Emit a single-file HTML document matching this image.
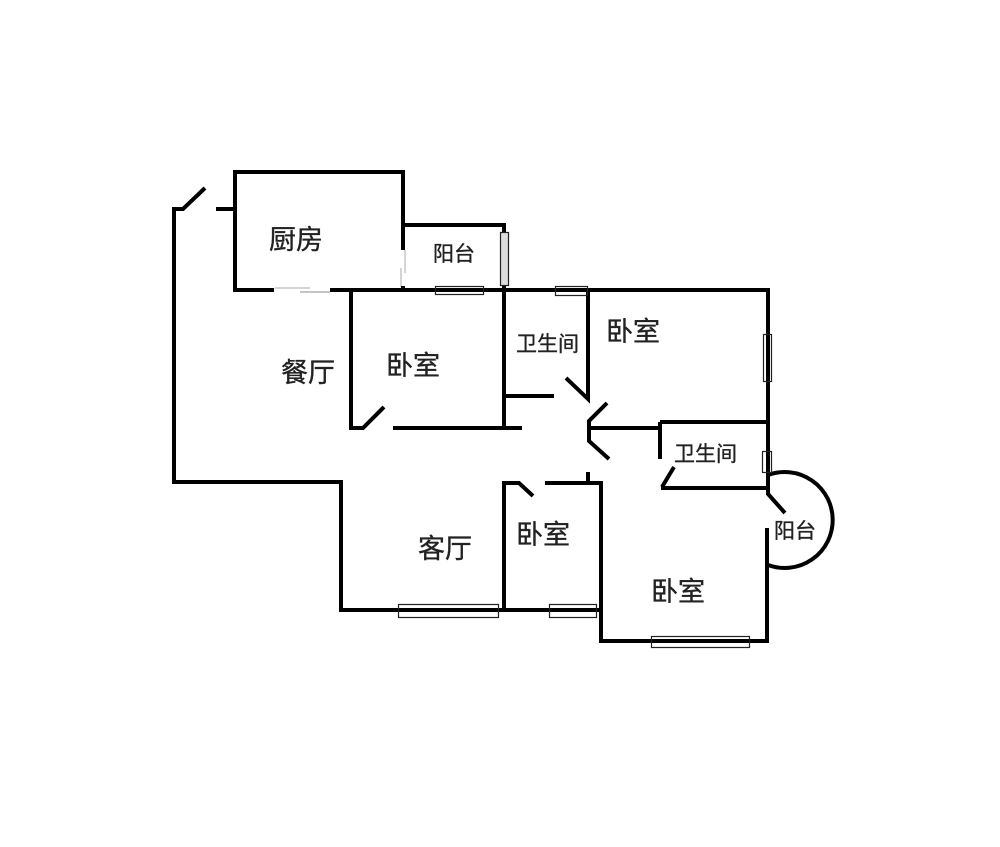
<!DOCTYPE html>
<html><head><meta charset="utf-8"><style>
html,body{margin:0;padding:0;background:#fff}
svg{display:block}
text{font-family:"Liberation Sans","Noto Sans CJK SC",sans-serif;fill:#222;stroke:#222;stroke-width:.35px}
.b{font-size:27px}.s{font-size:21px}
</style></head><body>
<svg width="1000" height="847" viewBox="0 0 1000 847" xmlns="http://www.w3.org/2000/svg">
<rect width="1000" height="847" fill="#fff"/>
<g fill="none" stroke="#000" stroke-width="4" stroke-linejoin="miter">
<path d="M174,484V209H183L205,188"/>
<path d="M216,209H235"/>
<path d="M274,290H235V172H403V250"/>
<path d="M403,225H504V428"/>
<path d="M330,290H768V488H661"/>
<path d="M351,290V428H363L384,407"/>
<path d="M393,428H522"/>
<path d="M504,396H554"/>
<path d="M588,290V399L566,378"/>
<path d="M607,403L589,421V441L609,459"/>
<path d="M588,428H660"/>
<path d="M660,422H768"/>
<path d="M660,422V459"/>
<path d="M674,467L662,487"/>
<path d="M768,488V494L785,513"/>
<path d="M767,528V641H601V483H545"/>
<path d="M588,472V483"/>
<path d="M533,496L519,483H504V610"/>
<path d="M172,482H341V610H601"/>
<path d="M768,475A48,48 0 1 1 768,565"/>
</g>
<g fill="none" stroke="#222" stroke-width="1.200">
<rect x="435.500" y="286.500" width="48" height="8"/>
<rect x="500.500" y="232.500" width="8" height="53" fill="#ddd"/>
<rect x="555.500" y="286.500" width="32" height="9"/>
<rect x="763.500" y="334.500" width="8" height="47"/>
<rect x="762.500" y="451.500" width="9" height="21"/>
<rect x="398.500" y="604.500" width="100" height="13"/>
<rect x="549.500" y="604.500" width="47" height="13"/>
<rect x="651.500" y="636.500" width="98" height="11"/>
</g>
<g fill="none" stroke="#aaa" stroke-width="1">
<path d="M275,288H310"/>
<path d="M300,292H330" stroke="#888"/>
<path d="M405,250V273"/>
<path d="M401,268V287"/>
</g>
<rect x="401" y="286" width="4" height="4" fill="#000"/>
<text class="b" x="269" y="249">厨房</text>
<text class="b" x="281" y="382">餐厅</text>
<text class="b" x="386" y="375">卧室</text>
<text class="s" x="433" y="261">阳台</text>
<text class="s" x="516" y="351">卫生间</text>
<text class="b" x="606" y="341">卧室</text>
<text class="s" x="674" y="461">卫生间</text>
<text class="b" x="418" y="558">客厅</text>
<text class="b" x="516" y="544">卧室</text>
<text class="b" x="651" y="601">卧室</text>
<text class="s" x="774" y="538">阳台</text>
</svg>
</body></html>
